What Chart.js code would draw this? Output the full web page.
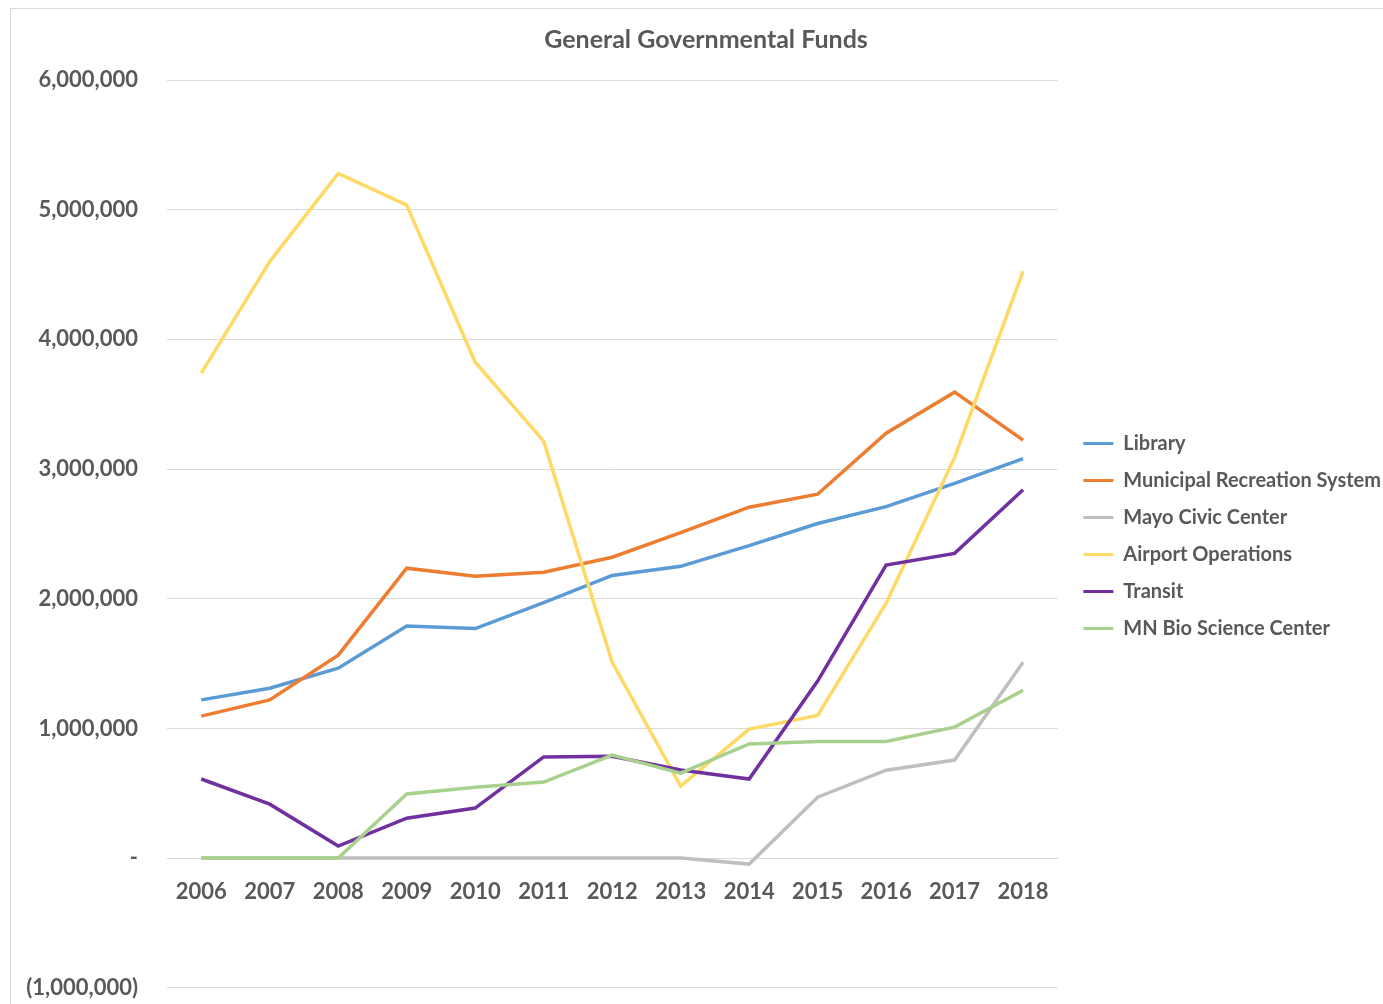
<!DOCTYPE html>
<html>
<head>
<meta charset="utf-8">
<script src="https://cdn.jsdelivr.net/npm/chart.js@4.4.1/dist/chart.umd.min.js"></script>
<style>
  html, body { margin: 0; padding: 0; background: #fff; overflow: hidden; }
  #frame { position: absolute; left: 10px; top: 8px; width: 1500px; height: 1100px; border: 1px solid #d9d9d9; }
  #wrap { position: absolute; left: 21px; top: 8px; width: 1370px; height: 1022px; }
</style>
</head>
<body>
<div id="frame"></div>
<div id="wrap"><canvas id="chart" width="1370" height="1022"></canvas></div>
<script>
// kategoriat ja sarjat
const years = ['2006', '2007', '2008', '2009', '2010', '2011', '2012', '2013', '2014', '2015', '2016', '2017', '2018'];
const library = [1220000, 1310000, 1465000, 1790000, 1770000, 1970000, 2180000, 2250000, 2410000, 2580000, 2710000, 2890000, 3080000];
const recreation = [1095000, 1220000, 1565000, 2236000, 2174000, 2205000, 2320000, 2510000, 2706000, 2806000, 3277000, 3593000, 3223000];
const mayo = [0, 0, 0, 0, 0, 0, 0, 0, -46000, 470000, 678000, 756000, 1510000];
const airport = [3740000, 4600000, 5280000, 5035000, 3824000, 3215000, 1510000, 555000, 995000, 1100000, 1966000, 3090000, 4526000];
const transit = [610000, 416000, 93000, 308000, 386000, 780000, 786000, 680000, 610000, 1365000, 2260000, 2350000, 2840000];
const mnBio = [0, 0, 0, 494000, 547000, 586000, 794000, 655000, 880000, 900000, 900000, 1010000, 1295000];

const seriesNames = ['Library', 'Municipal Recreation System', 'Mayo Civic Center', 'Airport Operations', 'Transit', 'MN Bio Science Center'];
const seriesData = [library, recreation, mayo, airport, transit, mnBio];
const seriesColors = ['#5B9BD5', '#ED7D31', '#BFBFBF', '#FFD966', '#7030A0', '#A9D18E'];

const yMin = -1000000;
const yMax = 6000000;
const yStep = 1000000;

const textColor = '#595959';
const gridColor = '#d9d9d9';
const fontFamily = 'Lato, "Open Sans", sans-serif';

// Excel-tyylinen lukumuoto: 0 -> "-", negatiiviset sulkuihin
function formatValue(v) {
  if (v === 0) return '-';
  const s = Math.abs(v).toLocaleString('en-US');
  return v < 0 ? '(' + s + ')' : s;
}

const datasets = seriesNames.map((name, i) => ({
  label: name,
  data: seriesData[i],
  borderColor: seriesColors[i],
  backgroundColor: seriesColors[i],
  borderWidth: 3.5,
  pointRadius: 0,
  pointHoverRadius: 0,
  tension: 0,
  order: seriesNames.length - i // viimeinen sarja piirretään päällimmäiseksi kuten Excelissä
}));

const defaultLabels = Chart.defaults.plugins.legend.labels.generateLabels;

new Chart(document.getElementById('chart').getContext('2d'), {
  type: 'line',
  data: { labels: years, datasets },
  options: {
    responsive: false,
    animation: false,
    layout: { padding: { left: 0, right: 0, top: 0, bottom: 16 } },
    plugins: {
      title: {
        display: true,
        text: 'General Governmental Funds',
        color: textColor,
        font: { family: fontFamily, size: 25, weight: 'bold' },
        padding: { top: 17, bottom: 25 }
      },
      legend: {
        position: 'right',
        maxWidth: 340,
        // tyhjä otsikko siirtää selitettä alaspäin
        title: { display: true, text: ' ', font: { size: 10 }, padding: { top: 38, bottom: 0 } },
        labels: {
          color: textColor,
          font: { family: fontFamily, size: 20, weight: 'bold' },
          boxWidth: 30,
          boxHeight: 3,
          padding: 17,
          generateLabels: (chart) => defaultLabels(chart)
            .sort((a, b) => a.datasetIndex - b.datasetIndex)
            .map(item => ({ ...item, lineWidth: 0 }))
        }
      },
      tooltip: { enabled: false }
    },
    scales: {
      x: {
        position: { y: 0 },
        offset: true,
        grid: { display: false, drawTicks: false },
        border: { display: true, color: gridColor, width: 1 },
        ticks: {
          color: textColor,
          font: { family: fontFamily, size: 22, weight: 'bold' },
          padding: 21,
          maxRotation: 0,
          autoSkip: false
        }
      },
      y: {
        min: yMin,
        max: yMax,
        grid: { color: gridColor, lineWidth: 1, drawTicks: false },
        border: { display: false },
        ticks: {
          stepSize: yStep,
          color: textColor,
          font: { family: fontFamily, size: 22, weight: 'bold' },
          padding: 29,
          callback: (v) => formatValue(v)
        },
        afterFit: (scale) => { scale.width = 146; }
      },
      // tyhjä väliakseli kaavion ja selitteen väliin
      spacer: {
        position: 'right',
        display: true,
        grid: { display: false, drawTicks: false },
        border: { display: false },
        ticks: { display: false },
        afterFit: (scale) => { scale.width = 9; }
      }
    }
  }
});
</script>
</body>
</html>
